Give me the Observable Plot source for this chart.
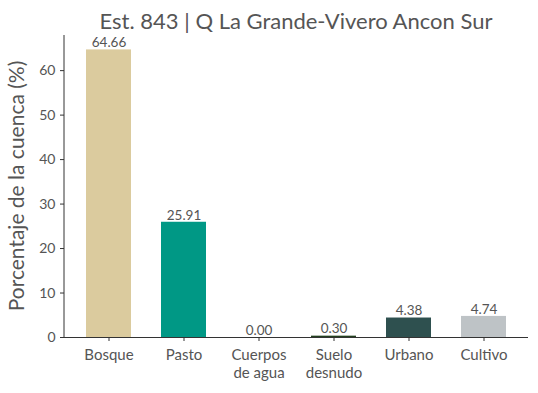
<!DOCTYPE html>
<html>
<head>
<meta charset="utf-8">
<script src="https://cdn.jsdelivr.net/npm/d3@7"></script>
<script src="https://cdn.jsdelivr.net/npm/@observablehq/plot@0.6"></script>
<style>
  body { margin: 0; background: #fff; }
</style>
</head>
<body>
<div id="chart"></div>
<script>
const categories = ["Bosque", "Pasto", "Cuerpos de agua", "Suelo desnudo", "Urbano", "Cultivo"];
const tickLabels = ["Bosque", "Pasto", "Cuerpos\nde agua", "Suelo\ndesnudo", "Urbano", "Cultivo"];
const values = [64.66, 25.91, 0.00, 0.30, 4.38, 4.74];
const colors = ["#dbcb9e", "#009885", "#4a90c0", "#23401f", "#2e504f", "#bec3c6"];
const yTicks = [0, 10, 20, 30, 40, 50, 60];
const title = "Est. 843 | Q La Grande-Vivero Ancon Sur";
const yLabel = "Porcentaje de la cuenca (%)";

const data = categories.map((c, i) => ({cat: c, val: values[i], color: colors[i]}));
const labelOf = new Map(categories.map((c, i) => [c, tickLabels[i]]));

const textColor = "#555555";
const font = "Lato, 'Open Sans', sans-serif";
const plot = Plot.plot({
  width: 538,
  height: 393,
  marginTop: 35,
  marginBottom: 56,
  marginLeft: 64,
  marginRight: 10,
  style: {fontFamily: font, color: textColor, background: "#fff"},
  x: {type: "band", domain: categories, paddingInner: 0.4, paddingOuter: 0.276, label: null},
  y: {domain: [0, 67.9], label: null},
  color: {type: "identity"},
  marks: [
    Plot.barY(data, {x: "cat", y: "val", fill: "color"}),
    Plot.text(data, {x: "cat", y: "val", text: d => d.val.toFixed(2), dy: -7, fontSize: 13.5, fill: textColor}),
    Plot.ruleY([0], {stroke: "#333", strokeWidth: 1}),
    Plot.axisY({ticks: yTicks, tickSize: 4, tickPadding: 5, fontSize: 14, fill: textColor, stroke: "#333", label: null}),
    Plot.axisX({tickSize: 4, tickPadding: 6, fontSize: 15, fill: textColor, stroke: "#333", label: null, tickFormat: d => labelOf.get(d), lineHeight: 1.2})
  ]
});

const svg = d3.select(plot);
const xr = plot.scale("x").range;
const yr = plot.scale("y").range;
svg.append("line")
  .attr("x1", xr[0]).attr("x2", xr[0])
  .attr("y1", yr[0]).attr("y2", yr[1])
  .attr("stroke", "#333");
svg.append("text")
  .attr("x", (xr[0] + xr[1]) / 2).attr("y", 29)
  .attr("text-anchor", "middle")
  .attr("font-family", font)
  .attr("font-size", 22)
  .attr("fill", textColor)
  .text(title);
svg.append("text")
  .attr("transform", `translate(24,${(yr[0] + yr[1]) / 2}) rotate(-90)`)
  .attr("text-anchor", "middle")
  .attr("font-family", font)
  .attr("font-size", 21)
  .attr("fill", textColor)
  .text(yLabel);

document.getElementById("chart").appendChild(plot);
</script>
</body>
</html>
